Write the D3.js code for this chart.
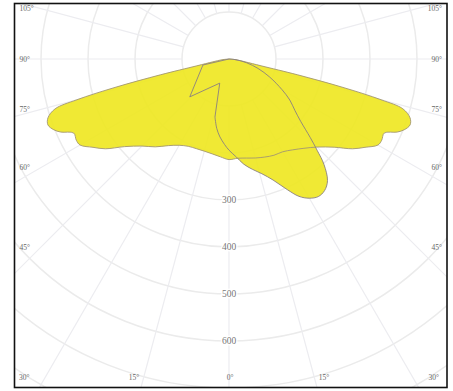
<!DOCTYPE html>
<html><head><meta charset="utf-8">
<script src="https://cdn.jsdelivr.net/npm/d3@7"></script>
<style>html,body{margin:0;padding:0;background:#fff;}</style>
</head><body>
<script>
// ---- data ----
const ringValues = [100, 200, 300, 400, 500, 600, 700, 800, 900];
const ringLabels = [300, 400, 500, 600];
const spokeAngles = d3.range(0, 360, 15);
const sideLabelAngles = [105, 90, 75, 60, 45];
const bottomLabelAngles = [30, 15, 0];

// curve A (wide wings), angle from nadir (deg), intensity (cd)
const anglesA = [-90,-84,-80,-78,-77,-76,-75,-74,-72,-70,-68,-66.5,-64.5,-62,-60,-57,-54,-50,-45,-40,-35,-30,-25,-20,-15,-10,-5,0,
                 5,10,15,20,25,30,35,40,45,50,54,57,60,62,64.5,66.5,68,70,72,74,75,76,77,78,80,84,90];
const valuesA = [0,15,35,70,150,250,335,385,405,410,402,390,366,368,366,345,325,290,262,244,225,212,205,203,203,205,209,214,
                 212,214,218,222,226,228,236,248,265,292,325,345,366,368,366,390,402,410,405,385,335,250,150,70,35,15,0];

// curve B (asymmetric)
const anglesB = [-90,-77,-46,-21,-13.6,-10,-6.6,-3,0,4,8,12,16,20,24,27,30,33,36,39,42,44,46,49,52,56,60,66,72,78,84,90];
const valuesB = [0,57,116,55,127,150,167,182,194,208,226,240,254,274,304,328,342,349,346,333,302,270,240,202,178,156,130,95,65,38,15,0];

// ---- layout ----
const W = 453, H = 391;
const cx = 229, cy = 59;
const frame = {x0: 14.5, y0: 3.5, x1: 447, y1: 387.5};
const r = d3.scaleLinear().domain([0, 100]).range([0, 47]);
const rad = d => d * Math.PI / 180;

const svg = d3.select("body").append("svg").attr("width", W).attr("height", H)
  .style("font-family", "'Liberation Serif', 'DejaVu Serif', serif");

svg.append("defs").append("clipPath").attr("id", "fc")
  .append("rect").attr("x", frame.x0).attr("y", frame.y0)
  .attr("width", frame.x1 - frame.x0).attr("height", frame.y1 - frame.y0);

const g = svg.append("g").attr("clip-path", "url(#fc)");
const plot = g.append("g").attr("transform", `translate(${cx},${cy})`);

// grid rings
plot.selectAll("circle.ring").data(ringValues).join("circle")
  .attr("class", "ring").attr("r", d => r(d))
  .attr("fill", "none").attr("stroke", "#ebebeb").attr("stroke-width", 1.5);

// spokes (angle measured from nadir)
plot.selectAll("line.spoke").data(spokeAngles).join("line")
  .attr("class", "spoke")
  .attr("x1", d => r(100) * Math.sin(rad(d))).attr("y1", d => r(100) * Math.cos(rad(d)))
  .attr("x2", d => r(1000) * Math.sin(rad(d))).attr("y2", d => r(1000) * Math.cos(rad(d)))
  .attr("stroke", "#ececf0").attr("stroke-width", 1.2);

// curves
const radialBase = curve => d3.lineRadial()
  .angle(d => Math.PI - rad(d[0]))
  .radius(d => r(d[1]))
  .curve(curve);
const smooth = radialBase(d3.curveCatmullRom.alpha(0.5));
const straight = radialBase(d3.curveLinear);

const dataA = anglesA.map((a, i) => [a, valuesA[i]]);
const dataB = anglesB.map((a, i) => [a, valuesB[i]]);

const pathA = smooth(dataA);
// sharp corners on the small left part of curve B, smooth afterwards
const splitB = anglesB.indexOf(-13.6);
const pathB = straight(dataB.slice(0, splitB + 1)) + smooth(dataB.slice(splitB)).replace(/^M/, "L");

const fills = plot.append("g").attr("opacity", 0.92);
fills.append("path").attr("d", pathA + "Z").attr("fill", "#efe823");
fills.append("path").attr("d", pathB + "Z").attr("fill", "#efe823");

plot.append("path").attr("d", pathA).attr("fill", "none")
  .attr("stroke", "#a39670").attr("stroke-width", 0.9);
plot.append("path").attr("d", pathB).attr("fill", "none")
  .attr("stroke", "#8a8080").attr("stroke-width", 0.9);

// ring labels on the 0° axis
plot.selectAll("text.rl").data(ringLabels).join("text")
  .attr("class", "rl")
  .attr("x", 0).attr("y", d => r(d)).attr("dy", "0.35em")
  .attr("text-anchor", "middle").attr("font-size", 9.5).attr("fill", "#777")
  .attr("stroke", "#fff").attr("stroke-width", 3).attr("paint-order", "stroke")
  .text(d => d);

// angle labels
const kSide = r(400), kBottom = r(755);
const labelY = frame.y1 - 10.5;
const side = [];
sideLabelAngles.forEach(a => {
  const y = cy + kSide / Math.tan(rad(a));
  side.push({t: a + "°", x: frame.x0 + 5, y: y, anchor: "start"});
  side.push({t: a + "°", x: frame.x1 - 5, y: y, anchor: "end"});
});
bottomLabelAngles.forEach(a => {
  const dx = kBottom * Math.tan(rad(a));
  if (a === 0) side.push({t: "0°", x: cx + 1, y: labelY, anchor: "middle"});
  else {
    side.push({t: a + "°", x: cx - dx, y: labelY, anchor: "middle"});
    side.push({t: a + "°", x: cx + dx, y: labelY, anchor: "middle"});
  }
});
svg.selectAll("text.al").data(side).join("text")
  .attr("class", "al")
  .attr("x", d => d.x).attr("y", d => d.y).attr("dy", "0.35em")
  .attr("text-anchor", d => d.anchor).attr("font-size", 7.5).attr("fill", "#666")
  .text(d => d.t);

// frame
svg.append("rect").attr("x", frame.x0).attr("y", frame.y0)
  .attr("width", frame.x1 - frame.x0).attr("height", frame.y1 - frame.y0)
  .attr("fill", "none").attr("stroke", "#111").attr("stroke-width", 1.6);
</script>
</body></html>
